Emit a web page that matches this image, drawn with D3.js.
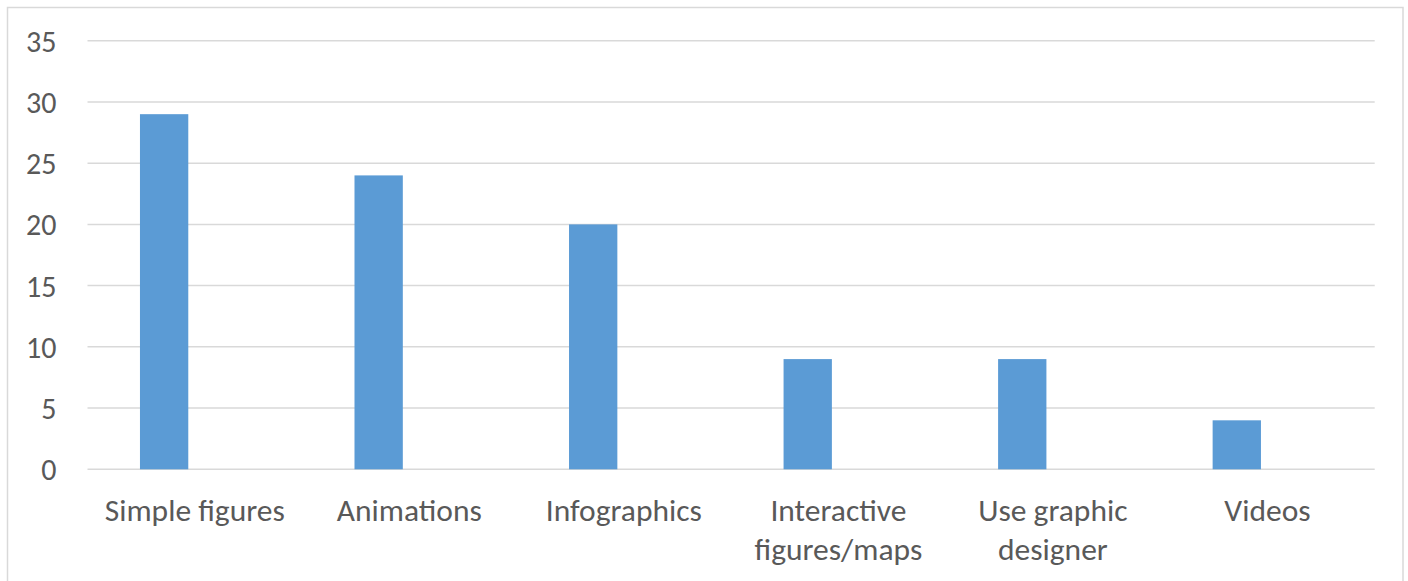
<!DOCTYPE html>
<html>
<head>
<meta charset="utf-8">
<script src="https://cdn.jsdelivr.net/npm/d3@7"></script>
<style>
  html, body { margin: 0; padding: 0; background: #ffffff; }
  svg { display: block; }
  text { font-family: Carlito, Lato, "Liberation Sans", sans-serif; fill: #595959; }
</style>
</head>
<body>
<svg id="chart" width="1408" height="581"></svg>
<script>
// ---- Data ----
const categories = [
  "Simple figures",
  "Animations",
  "Infographics",
  "Interactive figures/maps",
  "Use graphic designer",
  "Videos"
];
// displayed as wrapped lines under the axis
const categoryLines = [
  ["Simple figures"],
  ["Animations"],
  ["Infographics"],
  ["Interactive", "figures/maps"],
  ["Use graphic", "designer"],
  ["Videos"]
];
const values = [29, 24, 20, 9, 9, 4];
const seriesNames = ["Responses", "(empty series)"];
const yTicks = [0, 5, 10, 15, 20, 25, 30, 35];

// ---- Layout ----
const W = 1408, H = 581;
const plot = { left: 87.5, right: 1374.7, top: 40.7, bottom: 469.3 };

const svg = d3.select("#chart");

// outer chart border
svg.append("rect")
  .attr("x", 7.5).attr("y", 7.5)
  .attr("width", 1395.5).attr("height", 600)
  .attr("fill", "none")
  .attr("stroke", "#d9d9d9")
  .attr("stroke-width", 1.5);

const x = d3.scaleBand()
  .domain(categories)
  .range([plot.left, plot.right])
  .padding(0);

// series slots within each category (the second slot is empty)
const xs = d3.scaleBand()
  .domain(seriesNames)
  .range([0, x.bandwidth()])
  .paddingInner(0)
  .paddingOuter(1.22)
  .align(0.445);

const y = d3.scaleLinear()
  .domain([0, 35])
  .range([plot.bottom, plot.top]);

// gridlines
svg.append("g")
  .selectAll("line")
  .data(yTicks)
  .join("line")
  .attr("x1", plot.left).attr("x2", plot.right)
  .attr("y1", d => y(d)).attr("y2", d => y(d))
  .attr("stroke", "#d9d9d9")
  .attr("stroke-width", 1.5);

// y axis labels
const yAxis = d3.axisLeft(y).tickValues(yTicks).tickSize(0).tickPadding(31);
const gy = svg.append("g")
  .attr("transform", `translate(${plot.left},0)`)
  .call(yAxis);
gy.select(".domain").remove();
gy.selectAll("text")
  .attr("font-size", 30)
  .attr("fill", "#595959")
  .attr("dy", "0.35em");
gy.attr("font-family", null).attr("font-size", null);

// bars
svg.append("g")
  .selectAll("rect")
  .data(values)
  .join("rect")
  .attr("x", (d, i) => x(categories[i]) + xs(seriesNames[0]))
  .attr("width", xs.bandwidth())
  .attr("y", d => y(d))
  .attr("height", d => y(0) - y(d))
  .attr("fill", "#5b9bd5");

// x axis labels
const xAxis = d3.axisBottom(x).tickSize(0).tickFormat(() => "");
const gx = svg.append("g")
  .attr("transform", `translate(0,${plot.bottom})`)
  .call(xAxis);
gx.select(".domain").remove();
gx.attr("font-family", null).attr("font-size", null);
gx.selectAll(".tick").each(function(d, i) {
  const t = d3.select(this).select("text");
  t.text(null).attr("y", 0).attr("dy", null)
    .attr("font-size", 31.5)
    .attr("fill", "#595959")
    .attr("text-anchor", "middle");
  categoryLines[i].forEach((ln, k) => {
    t.append("tspan").attr("x", 0).attr("y", 52 + k * 39).text(ln);
  });
});
</script>
</body>
</html>
